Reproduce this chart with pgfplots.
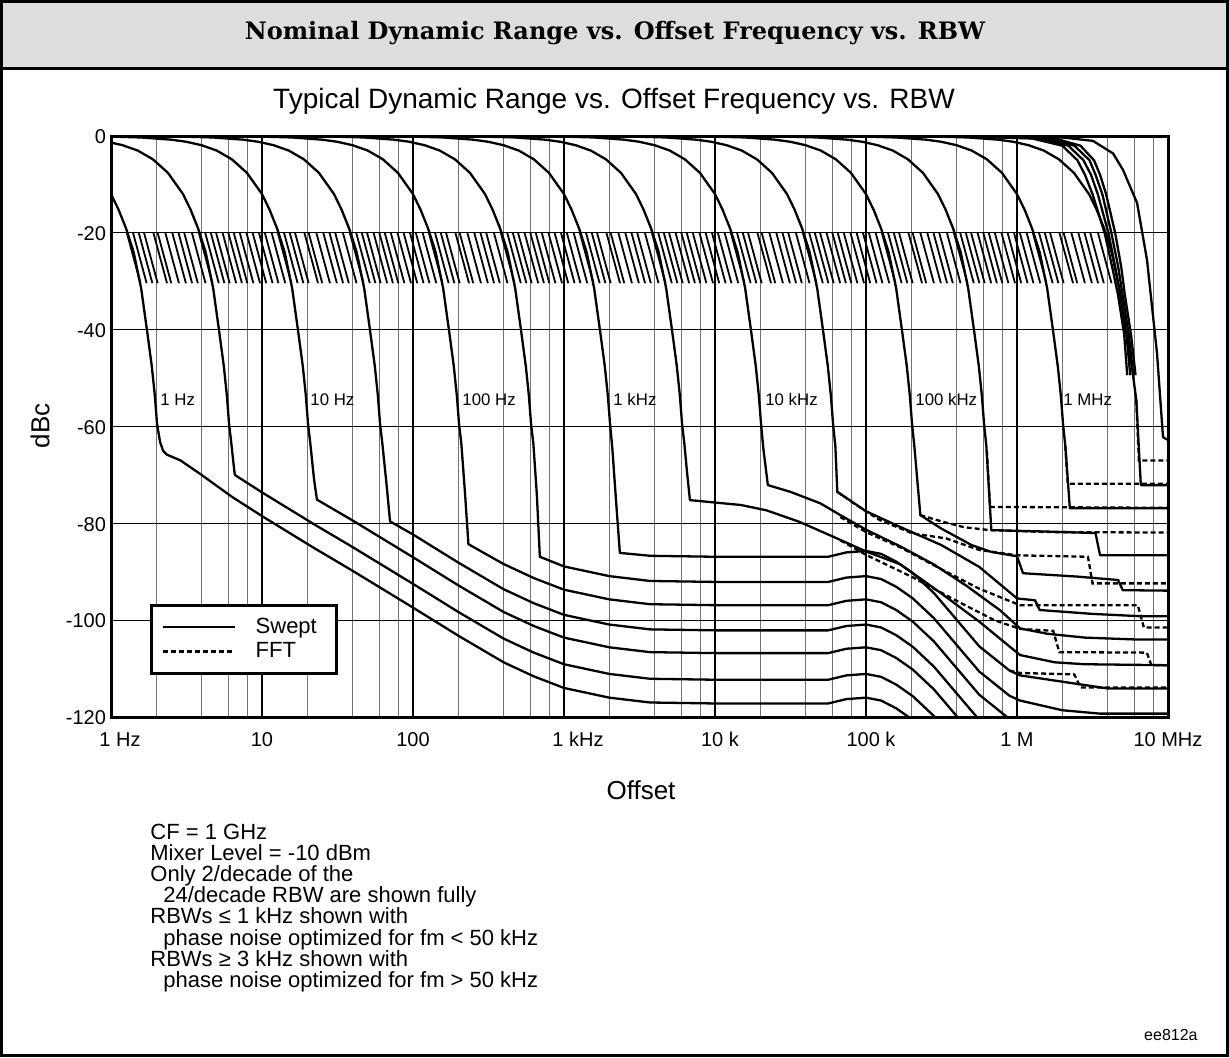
\documentclass[border=0pt]{standalone}
\usepackage{fontspec}
\setmainfont{Liberation Sans}
\newfontfamily\titlefont{DejaVu Serif}
\usepackage{pgfplots}
\pgfplotsset{compat=1.18}
% x values are log10(offset/Hz); 1 px of the reference = 0.5pt
\pgfplotsset{
  swept/.style={black, line width=1.15pt, line join=round},
  fft/.style={black, line width=1.15pt, dash pattern=on 2.5pt off 1.5pt},
}
\begin{document}
\begin{tikzpicture}
\useasboundingbox (0,0) rectangle (614.5pt,-528.5pt);
\fill[black!13] (0,0) rectangle (614.5pt,-34pt);
\draw[line width=1.5pt] (0,-34pt) -- (614.5pt,-34pt);
\draw[line width=1.5pt] (0.75pt,-0.75pt) rectangle (613.75pt,-527.75pt);
\node[font=\titlefont\bfseries\fontsize{12}{14}\selectfont] at (307.5pt,-16.5pt)
  {Nominal Dynamic Range vs. Offset Frequency vs. RBW};
\node[font=\fontsize{14}{16}\selectfont] at (307pt,-50.5pt)
  {Typical Dynamic Range vs. Offset Frequency vs. RBW};
\node[rotate=90, font=\fontsize{13}{15}\selectfont] at (20pt,-213pt) {dBc};
\node[font=\fontsize{13}{15}\selectfont] at (320.5pt,-395pt) {Offset};

\begin{axis}[
  at={(55.5pt,-358.5pt)}, anchor=south west,
  scale only axis, width=528.5pt, height=290.5pt,
  xmin=0, xmax=7, ymin=-120, ymax=0,
  xtick={0,1,2,3,4,5,6,7},
  xticklabels={\hspace*{9pt}1 Hz,10,100,\hspace*{14pt}1 kHz,\hspace*{5pt}10 k,\hspace*{5pt}100 k,1 M,10 MHz},
  minor xtick={0.301,0.602,0.778,0.903,1.301,1.602,1.778,1.903,2.301,2.602,2.778,2.903,
    3.301,3.602,3.778,3.903,4.301,4.602,4.778,4.903,5.301,5.602,5.778,5.903,6.301,6.602,6.778,6.903},
  ytick={-120,-100,-80,-60,-40,-20,0},
  yticklabels={-120,-100,-80,-60,-40,-20,0},
  typeset ticklabels with strut,
  grid=both,
  major grid style={black, line width=0.6pt},
  minor grid style={black!55, line width=0.5pt},
  axis line style={line width=1.5pt},
  major tick length=0pt, minor tick length=0pt,
  tick label style={font=\fontsize{10}{12}\selectfont},
  xticklabel style={yshift=-3pt}, yticklabel style={xshift=1pt, yshift=-1.5pt},
  legend style={at={(rel axis cs:0.0369,0.0723)}, anchor=south west, draw=black,
    line width=1.4pt, fill=white, inner xsep=5pt, inner ysep=4.5pt,
    font=\fontsize{11}{12}\selectfont, row sep=-1pt,
    /tikz/every odd column/.append style={column sep=8pt}},
  legend cell align=left,
  legend image code/.code={\draw[#1] (0pt,0pt) -- (36pt,0pt);},
]
\addlegendimage{black, line width=1.15pt}
\addlegendimage{black, line width=1.15pt, dash pattern=on 2.5pt off 1.5pt}
\legend{Swept\hspace*{3pt},FFT}

% short skirts of the 24/decade RBWs between -20 and -30 dBc
\addplot[black, line width=0.9pt, quiver={u=0.09,v=-10.4}] coordinates {
(0.105,-20)(0.146,-20)(0.184,-20)(0.219,-20)(0.281,-20)(0.309,-20)(0.360,-20)(0.406,-20)
(0.447,-20)(0.485,-20)(0.536,-20)(0.582,-20)(0.624,-20)(0.661,-20)(0.696,-20)(0.739,-20)
(0.777,-20)(0.813,-20)(0.853,-20)(0.897,-20)(0.938,-20)(0.980,-20)(1.019,-20)(1.064,-20)
(1.105,-20)(1.146,-20)(1.184,-20)(1.219,-20)(1.281,-20)(1.309,-20)(1.360,-20)(1.406,-20)
(1.447,-20)(1.485,-20)(1.536,-20)(1.582,-20)(1.624,-20)(1.661,-20)(1.696,-20)(1.739,-20)
(1.777,-20)(1.813,-20)(1.853,-20)(1.897,-20)(1.938,-20)(1.980,-20)(2.019,-20)(2.064,-20)
(2.105,-20)(2.146,-20)(2.184,-20)(2.219,-20)(2.281,-20)(2.309,-20)(2.360,-20)(2.406,-20)
(2.447,-20)(2.485,-20)(2.536,-20)(2.582,-20)(2.624,-20)(2.661,-20)(2.696,-20)(2.739,-20)
(2.777,-20)(2.813,-20)(2.853,-20)(2.897,-20)(2.938,-20)(2.980,-20)(3.019,-20)(3.064,-20)
(3.105,-20)(3.146,-20)(3.184,-20)(3.219,-20)(3.281,-20)(3.309,-20)(3.360,-20)(3.406,-20)
(3.447,-20)(3.485,-20)(3.536,-20)(3.582,-20)(3.624,-20)(3.661,-20)(3.696,-20)(3.739,-20)
(3.777,-20)(3.813,-20)(3.853,-20)(3.897,-20)(3.938,-20)(3.980,-20)(4.019,-20)(4.064,-20)
(4.105,-20)(4.146,-20)(4.184,-20)(4.219,-20)(4.281,-20)(4.309,-20)(4.360,-20)(4.406,-20)
(4.447,-20)(4.485,-20)(4.536,-20)(4.582,-20)(4.624,-20)(4.661,-20)(4.696,-20)(4.739,-20)
(4.777,-20)(4.813,-20)(4.853,-20)(4.897,-20)(4.938,-20)(4.980,-20)(5.019,-20)(5.064,-20)
(5.105,-20)(5.146,-20)(5.184,-20)(5.219,-20)(5.281,-20)(5.309,-20)(5.360,-20)(5.406,-20)
(5.447,-20)(5.485,-20)(5.536,-20)(5.582,-20)(5.624,-20)(5.661,-20)(5.696,-20)(5.739,-20)
(5.777,-20)(5.813,-20)(5.853,-20)(5.897,-20)(5.938,-20)(5.980,-20)(6.019,-20)(6.064,-20)
(6.105,-20)(6.146,-20)(6.184,-20)(6.219,-20)(6.281,-20)(6.309,-20)(6.360,-20)(6.406,-20)
(6.447,-20)(6.485,-20)(6.536,-20)};

% FFT
\addplot[fft] coordinates {(6.79,-54.5)(6.807,-67)(7,-67)};
\addplot[fft] coordinates {(6.32,-64)(6.336,-71.8)(7,-71.8)};
\addplot[fft] coordinates {(5.80,-65)(5.822,-76.6)(7,-76.8)};
\addplot[fft] coordinates {(5.36,-78.3)(5.5,-79.6)(5.65,-80.8)(5.82,-81.4)(6.2,-81.8)(7,-81.9)};
\addplot[fft] coordinates {(4.81,-73.5)(4.95,-76.5)(5.09,-79.3)(5.31,-82.1)(5.53,-83.1)(5.75,-85.5)(6.0,-86.6)(6.47,-86.9)(6.5,-92.4)(7,-92.4)};
\addplot[fft] coordinates {(4.83,-78.7)(5.0,-81.8)(5.23,-85)(5.5,-89.5)(5.75,-93.5)(6.02,-96.9)(6.8,-96.9)(6.84,-101.5)(7,-101.5)};
\addplot[fft] coordinates {(4.83,-83.5)(5.0,-86.5)(5.3,-91)(5.6,-96)(5.85,-100)(6.02,-101.8)(6.24,-102.2)(6.28,-106.6)(6.86,-106.7)(6.89,-109.3)(7,-109.3)};
\addplot[fft] coordinates {(5.95,-110.4)(6.02,-110.9)(6.38,-111.2)(6.42,-113.9)(7,-113.9)};

% Swept, RBW 1 Hz ... 1 kHz
\addplot[swept] coordinates {(0,-12.0)(0.05,-15.2)(0.1,-19.1)(0.15,-24.0)(0.2,-31.5)(0.24,-40.5)(0.27,-47.5)(0.29,-53.5)(0.305,-59.5)(0.325,-63.2)(0.345,-65.0)(0.37,-65.8)(0.46,-67.0)(0.6,-70.0)(0.8,-74.5)(1.0,-78.5)(1.34,-85.0)(1.6,-89.8)(2.0,-97.4)(2.3,-103.2)(2.6,-108.7)(2.8,-111.6)(3.0,-114.0)(3.3,-116.0)(3.57,-117.0)(4.0,-117.2)(4.75,-117.2)(4.87,-116.3)(5.0,-116.0)(5.1,-116.6)(5.2,-118.2)(5.31,-120.6)(5.45,-124.7)};
\addplot[swept] coordinates {(0,-1.35)(0.077,-1.9)(0.177,-3.0)(0.277,-4.8)(0.377,-7.6)(0.477,-12.0)(0.527,-15.2)(0.577,-19.1)(0.627,-24.0)(0.677,-31.5)(0.717,-40.5)(0.747,-47.5)(0.767,-53.5)(0.782,-59.5)(0.797,-63.5)(0.81,-67.3)(0.82,-70.0)(1.0,-73.6)(1.34,-80.1)(1.6,-84.9)(2.0,-92.5)(2.3,-98.3)(2.6,-103.8)(2.8,-106.7)(3.0,-109.1)(3.3,-111.1)(3.57,-112.1)(4.0,-112.3)(4.75,-112.3)(4.87,-111.4)(5.0,-111.1)(5.1,-111.7)(5.2,-113.3)(5.31,-115.7)(5.45,-119.8)(5.6,-125.3)};
\addplot[swept] coordinates {(0,-0.12)(0.2,-0.30)(0.4,-0.76)(0.5,-1.2)(0.6,-1.9)(0.7,-3.0)(0.8,-4.8)(0.9,-7.6)(1.0,-12.0)(1.05,-15.2)(1.1,-19.1)(1.15,-24.0)(1.2,-31.5)(1.24,-40.5)(1.27,-47.5)(1.29,-53.5)(1.305,-59.5)(1.32,-63.5)(1.345,-71.0)(1.364,-75.1)(1.6,-79.4)(2.0,-87.0)(2.3,-92.8)(2.6,-98.3)(2.8,-101.2)(3.0,-103.6)(3.3,-105.6)(3.57,-106.6)(4.0,-106.8)(4.75,-106.8)(4.87,-105.9)(5.0,-105.6)(5.1,-106.2)(5.2,-107.8)(5.31,-110.2)(5.45,-114.3)(5.6,-119.8)(5.75,-125.3)};
\addplot[swept] coordinates {(0,0)(0.477,-0.12)(0.677,-0.30)(0.877,-0.76)(0.977,-1.2)(1.077,-1.9)(1.177,-3.0)(1.277,-4.8)(1.377,-7.6)(1.477,-12.0)(1.527,-15.2)(1.577,-19.1)(1.627,-24.0)(1.677,-31.5)(1.717,-40.5)(1.747,-47.5)(1.767,-53.5)(1.782,-59.5)(1.797,-63.5)(1.825,-72.0)(1.848,-79.6)(2.0,-82.3)(2.3,-88.1)(2.6,-93.6)(2.8,-96.5)(3.0,-98.9)(3.3,-100.9)(3.57,-101.9)(4.0,-102.1)(4.75,-102.1)(4.87,-101.2)(5.0,-100.9)(5.1,-101.5)(5.2,-103.1)(5.31,-105.5)(5.45,-109.6)(5.6,-115.1)(5.75,-120.6)(5.95,-125.6)};
\addplot[swept] coordinates {(0,0)(1.0,-0.12)(1.2,-0.30)(1.4,-0.76)(1.5,-1.2)(1.6,-1.9)(1.7,-3.0)(1.8,-4.8)(1.9,-7.6)(2.0,-12.0)(2.05,-15.2)(2.1,-19.1)(2.15,-24.0)(2.2,-31.5)(2.24,-40.5)(2.27,-47.5)(2.29,-53.5)(2.305,-59.5)(2.32,-63.5)(2.345,-74.0)(2.367,-84.3)(2.6,-88.4)(2.8,-91.3)(3.0,-93.7)(3.3,-95.7)(3.57,-96.7)(4.0,-96.9)(4.75,-96.9)(4.87,-96.0)(5.0,-95.7)(5.1,-96.3)(5.2,-97.9)(5.31,-100.3)(5.45,-104.4)(5.6,-109.9)(5.75,-115.4)(5.95,-120.4)(6.1,-124.0)};
\addplot[swept] coordinates {(0,0)(1.477,-0.12)(1.677,-0.30)(1.877,-0.76)(1.977,-1.2)(2.077,-1.9)(2.177,-3.0)(2.277,-4.8)(2.377,-7.6)(2.477,-12.0)(2.527,-15.2)(2.577,-19.1)(2.627,-24.0)(2.677,-31.5)(2.717,-40.5)(2.747,-47.5)(2.767,-53.5)(2.782,-59.5)(2.797,-63.5)(2.82,-74.0)(2.84,-86.9)(3.0,-88.9)(3.3,-90.9)(3.57,-91.9)(4.0,-92.1)(4.75,-92.1)(4.87,-91.2)(5.0,-90.9)(5.1,-91.5)(5.2,-93.1)(5.31,-95.5)(5.45,-99.6)(5.6,-105.1)(5.75,-110.6)(5.95,-115.6)(6.02,-116.6)(6.3,-118.6)(6.55,-119.3)(7,-119.3)};
\addplot[swept] coordinates {(0,0)(2.0,-0.12)(2.2,-0.30)(2.4,-0.76)(2.5,-1.2)(2.6,-1.9)(2.7,-3.0)(2.8,-4.8)(2.9,-7.6)(3.0,-12.0)(3.05,-15.2)(3.1,-19.1)(3.15,-24.0)(3.2,-31.5)(3.24,-40.5)(3.27,-47.5)(3.29,-53.5)(3.305,-59.5)(3.32,-64.5)(3.345,-75.5)(3.37,-86.1)(3.57,-86.7)(4.0,-86.9)(4.75,-86.9)(4.87,-86.0)(5.0,-85.7)(5.1,-86.3)(5.2,-87.9)(5.31,-90.3)(5.45,-94.4)(5.6,-99.9)(5.75,-105.4)(5.95,-110.4)(6.02,-111.4)(6.45,-113.4)(6.6,-114.1)(7,-114.1)};

% Swept, RBW 3 kHz ... 3 MHz
\addplot[swept] coordinates {(0,0)(2.477,-0.12)(2.677,-0.30)(2.877,-0.76)(2.977,-1.2)(3.077,-1.9)(3.177,-3.0)(3.277,-4.8)(3.377,-7.6)(3.477,-12.0)(3.527,-15.2)(3.577,-19.1)(3.627,-24.0)(3.677,-31.5)(3.717,-40.5)(3.747,-47.5)(3.767,-53.5)(3.782,-59.5)(3.797,-63.5)(3.815,-69.5)(3.834,-75.2)(4.0,-75.7)(4.17,-76.2)(4.34,-77.3)(4.56,-79.7)(4.8,-83.0)(5.0,-85.8)(5.23,-88.5)(5.5,-94.5)(5.75,-100.3)(6.02,-107.2)(6.25,-108.7)(6.45,-109.1)(7,-109.3)};
\addplot[swept] coordinates {(0,0)(3.0,-0.12)(3.2,-0.30)(3.4,-0.76)(3.5,-1.2)(3.6,-1.9)(3.7,-3.0)(3.8,-4.8)(3.9,-7.6)(4.0,-12.0)(4.05,-15.2)(4.1,-19.1)(4.15,-24.0)(4.2,-31.5)(4.24,-40.5)(4.27,-47.5)(4.29,-53.5)(4.305,-59.5)(4.32,-64.5)(4.35,-72.1)(4.5,-73.5)(4.7,-75.9)(4.83,-78.3)(5.0,-81.3)(5.23,-84.8)(5.45,-88.5)(5.67,-93.0)(5.89,-98.0)(6.02,-101.7)(6.2,-102.8)(6.45,-103.6)(6.8,-104.0)(7,-104.0)};
\addplot[swept] coordinates {(0,0)(3.477,-0.12)(3.677,-0.30)(3.877,-0.76)(3.977,-1.2)(4.077,-1.9)(4.177,-3.0)(4.277,-4.8)(4.377,-7.6)(4.477,-12.0)(4.527,-15.2)(4.577,-19.1)(4.627,-24.0)(4.677,-31.5)(4.717,-40.5)(4.747,-47.5)(4.767,-53.5)(4.782,-59.5)(4.797,-64.0)(4.81,-73.5)(5.0,-77.5)(5.23,-80.8)(5.5,-84.5)(5.75,-89.0)(6.0,-95.5)(6.12,-95.9)(6.15,-97.9)(6.5,-98.7)(6.83,-99.2)(7,-99.2)};
\addplot[swept] coordinates {(0,0)(4.0,-0.12)(4.2,-0.30)(4.4,-0.76)(4.5,-1.2)(4.6,-1.9)(4.7,-3.0)(4.8,-4.8)(4.9,-7.6)(5.0,-12.0)(5.05,-15.2)(5.1,-19.1)(5.15,-24.0)(5.2,-31.5)(5.24,-40.5)(5.27,-47.5)(5.29,-53.5)(5.305,-59.5)(5.32,-64.0)(5.36,-78.3)(5.5,-81.1)(5.7,-84.5)(5.83,-85.9)(6.0,-86.8)(6.04,-90.3)(6.4,-91.0)(6.67,-91.7)(6.70,-93.8)(7,-93.9)};
\addplot[swept] coordinates {(0,0)(4.477,-0.12)(4.677,-0.30)(4.877,-0.76)(4.977,-1.2)(5.077,-1.9)(5.177,-3.0)(5.277,-4.8)(5.377,-7.6)(5.477,-12.0)(5.527,-15.2)(5.577,-19.1)(5.627,-24.0)(5.677,-31.5)(5.717,-40.5)(5.747,-47.5)(5.767,-53.5)(5.782,-59.5)(5.797,-64.0)(5.83,-81.4)(6.2,-81.7)(6.52,-82.0)(6.55,-86.6)(7,-86.6)};
\addplot[swept] coordinates {(0,0)(5.0,-0.12)(5.2,-0.30)(5.4,-0.76)(5.5,-1.2)(5.6,-1.9)(5.7,-3.0)(5.8,-4.8)(5.9,-7.6)(6.0,-12.0)(6.05,-15.2)(6.1,-19.1)(6.15,-24.0)(6.2,-31.5)(6.24,-40.5)(6.27,-47.5)(6.29,-53.5)(6.305,-59.5)(6.32,-64.0)(6.35,-76.9)(7,-76.9)};
\addplot[swept] coordinates {(0,0)(5.477,-0.12)(5.677,-0.30)(5.877,-0.76)(5.977,-1.2)(6.077,-1.9)(6.177,-3.0)(6.277,-4.8)(6.377,-7.6)(6.477,-12.0)(6.527,-15.2)(6.577,-19.1)(6.627,-24.0)(6.677,-31.5)(6.72,-40.0)(6.76,-47.5)(6.79,-54.5)(6.82,-72.1)(7,-72.1)};

% widest RBWs, cut off at -50 dBc
\addplot[swept] coordinates {(5.5,0)(6.1,-0.5)(6.3,-2)(6.4,-5)(6.45,-8)(6.5,-12)(6.58,-20)(6.63,-27)(6.67,-33)(6.71,-41)(6.73,-49.4)};
\addplot[swept] coordinates {(5.6,0)(6.15,-0.5)(6.34,-2)(6.44,-5)(6.49,-8)(6.535,-12)(6.605,-20)(6.65,-27)(6.685,-33)(6.725,-41)(6.75,-49.4)};
\addplot[swept] coordinates {(5.7,0)(6.2,-0.5)(6.38,-2)(6.48,-5)(6.52,-8)(6.565,-12)(6.625,-20)(6.67,-27)(6.7,-33)(6.74,-41)(6.77,-49.4)};
\addplot[swept] coordinates {(5.8,0)(6.25,-0.5)(6.42,-2)(6.51,-5)(6.55,-8)(6.59,-12)(6.65,-20)(6.69,-27)(6.715,-33)(6.755,-41)(6.785,-49.4)};
\addplot[swept] coordinates {(5.8,0)(6.3,-0.3)(6.503,-1.0)(6.636,-3.6)(6.702,-7)(6.795,-13.8)(6.861,-25.6)(6.927,-44.8)(6.967,-62.2)(7.0,-62.8)};

\begin{scope}[every node/.style={anchor=west, inner sep=0pt, font=\fontsize{8.4}{10}\selectfont}]
\node at (axis cs:0.325,-54.5) {1 Hz};
\node at (axis cs:1.318,-54.5) {10 Hz};
\node at (axis cs:2.325,-54.5) {100 Hz};
\node at (axis cs:3.325,-54.5) {1 kHz};
\node at (axis cs:4.331,-54.5) {10 kHz};
\node at (axis cs:5.325,-54.5) {100 kHz};
\node at (axis cs:6.305,-54.5) {1 MHz};
\end{scope}
\end{axis}

\begin{scope}[every node/.style={anchor=base west, inner sep=0pt, font=\fontsize{11}{12}\selectfont}]
\node at (75pt,-419.5pt) {CF = 1 GHz};
\node at (75pt,-430pt) {Mixer Level = -10 dBm};
\node at (75pt,-440.5pt) {Only 2/decade of the};
\node at (81.5pt,-451pt) {24/decade RBW are shown fully};
\node at (75pt,-461.5pt) {RBWs ≤ 1 kHz shown with};
\node at (81.5pt,-472.5pt) {phase noise optimized for fm < 50 kHz};
\node at (75pt,-483pt) {RBWs ≥ 3 kHz shown with};
\node at (81.5pt,-493.5pt) {phase noise optimized for fm > 50 kHz};
\end{scope}
\node[anchor=base east, inner sep=0pt, font=\fontsize{8}{10}\selectfont] at (599pt,-520pt) {ee812a};
\end{tikzpicture}
\end{document}
